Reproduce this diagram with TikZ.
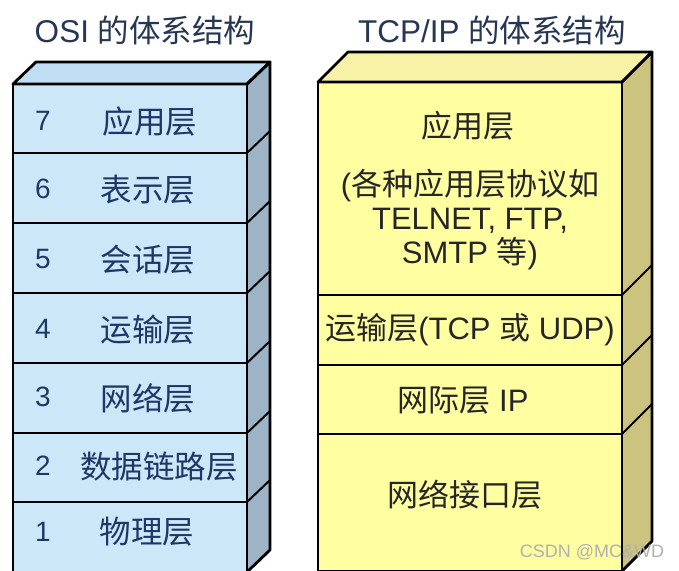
\documentclass[tikz,border=0pt]{standalone}
\usepackage{fontspec}
\setmainfont{Liberation Sans}
\newfontfamily\cjk{Noto Sans CJK SC}
\definecolor{bluefront}{HTML}{CBE7F8}
\definecolor{bluetop}{HTML}{BFDDF3}
\definecolor{blueside}{HTML}{9DB3C6}
\definecolor{yelfront}{HTML}{FFFFA2}
\definecolor{yeltop}{HTML}{F8F2A6}
\definecolor{yelside}{HTML}{CCC47E}
\definecolor{navytext}{HTML}{1F3766}
\definecolor{darktext}{HTML}{262626}
\definecolor{titletext}{HTML}{263752}
\definecolor{wmark}{HTML}{B0B0B0}
\tikzset{
  frame/.style={draw=black, line width=2.8pt, line join=round},
  sepline/.style={draw=black, line width=2.4pt},
  sideline/.style={draw=black, line width=2pt},
  titlelbl/.style={text=titletext, inner sep=0pt, font=\fontsize{31.5}{36}\selectfont},
  osilbl/.style={text=navytext, inner sep=0pt, font=\cjk\fontsize{31.5}{36}\selectfont},
  osinum/.style={text=navytext, inner sep=0pt, font=\fontsize{28}{32}\selectfont},
  tcplbl/.style={text=darktext, inner sep=0pt, align=center, font=\fontsize{31}{34}\selectfont},
  wmlbl/.style={text=wmark, inner sep=0pt, font=\fontsize{18}{22}\selectfont}
}
\begin{document}
\begin{tikzpicture}[x=1pt,y=-1pt]
\useasboundingbox (0,0) rectangle (679,570);
\fill[white] (0,0) rectangle (679,570);
\clip (0,0) rectangle (679,570);

% ---------- OSI box ----------
\coordinate (oFL) at (13,84);
\coordinate (oFR) at (247,84);
\coordinate (oBL) at (36,62);
\coordinate (oBR) at (270,62);
\coordinate (oFRb) at (247,572);
\coordinate (oFLb) at (13,572);
\coordinate (oBRb) at (270,550);
\fill[bluefront] (oFL) rectangle (oFRb);
\fill[bluetop] (oFL) -- (oBL) -- (oBR) -- (oFR) -- cycle;
\fill[blueside] (oFR) -- (oBR) -- (oBRb) -- (oFRb) -- cycle;
\foreach \yy in {153,223,293,363,433,502}{
  \draw[sepline] (13,\yy) -- (247,\yy);
  \draw[sideline] (247,\yy) -- (270,\yy-22);
}
\draw[frame] (oFL) -- (oBL) -- (oBR) -- (oFR) -- cycle;
\draw[frame] (oFR) -- (oBR) -- (oBRb) -- (oFRb);
\draw[frame] (oFLb) -- (oFL) -- (oFR) -- (oFRb) -- (oFLb);

\node[osinum] (n7) at (43,121) {7};
\node[osinum] (n6) at (43,189) {6};
\node[osinum] (n5) at (43,259) {5};
\node[osinum] (n4) at (43,329) {4};
\node[osinum] (n3) at (43,397) {3};
\node[osinum] (n2) at (43,466) {2};
\node[osinum] (n1) at (43,532) {1};
\node[osilbl] (o7) at (150,122) {应用层};
\node[osilbl] (o6) at (148,190) {表示层};
\node[osilbl] (o5) at (148,260) {会话层};
\node[osilbl] (o4) at (148,330) {运输层};
\node[osilbl] (o3) at (148,398) {网络层};
\node[osilbl] (o2) at (159,467) {数据链路层};
\node[osilbl] (o1) at (147,532) {物理层};

% ---------- TCP/IP box ----------
\coordinate (tFL) at (318,82);
\coordinate (tFR) at (622,82);
\coordinate (tBL) at (348,52);
\coordinate (tBR) at (652,52);
\coordinate (tFRb) at (622,571);
\coordinate (tFLb) at (318,571);
\coordinate (tBRb) at (652,541);
\fill[yelfront] (tFL) rectangle (tFRb);
\fill[yeltop] (tFL) -- (tBL) -- (tBR) -- (tFR) -- cycle;
\fill[yelside] (tFR) -- (tBR) -- (tBRb) -- (tFRb) -- cycle;
\foreach \yy in {295,365,434}{
  \draw[sepline] (318,\yy) -- (622,\yy);
  \draw[sideline] (622,\yy) -- (652,\yy-30);
}
\draw[frame] (tFL) -- (tBL) -- (tBR) -- (tFR) -- cycle;
\draw[frame] (tFR) -- (tBR) -- (tBRb) -- (tFRb);
\draw[frame] (tFLb) -- (tFL) -- (tFR) -- (tFRb) -- (tFLb);

\node[tcplbl] (tapp) at (468,126) {\cjk 应用层};
\node[tcplbl] (tapp2) at (470,220) {({\cjk 各种应用层协议如}\\TELNET, FTP,\\SMTP {\cjk 等})};
\node[tcplbl] (ttrans) at (470,330) {{\cjk 运输层}(TCP {\cjk 或} UDP)};
\node[tcplbl] (tip) at (463,400) {{\cjk 网际层} IP};
\node[tcplbl] (tnet) at (465,495) {\cjk 网络接口层};

% ---------- titles ----------
\node[titlelbl] (title1) at (145,30) {OSI {\cjk 的体系结构}};
\node[titlelbl] (title2) at (492,30) {TCP/IP {\cjk 的体系结构}};

% ---------- watermark ----------
\node[wmlbl] (wm) at (592,552) {CSDN @MC\&WD};
\end{tikzpicture}
\end{document}
